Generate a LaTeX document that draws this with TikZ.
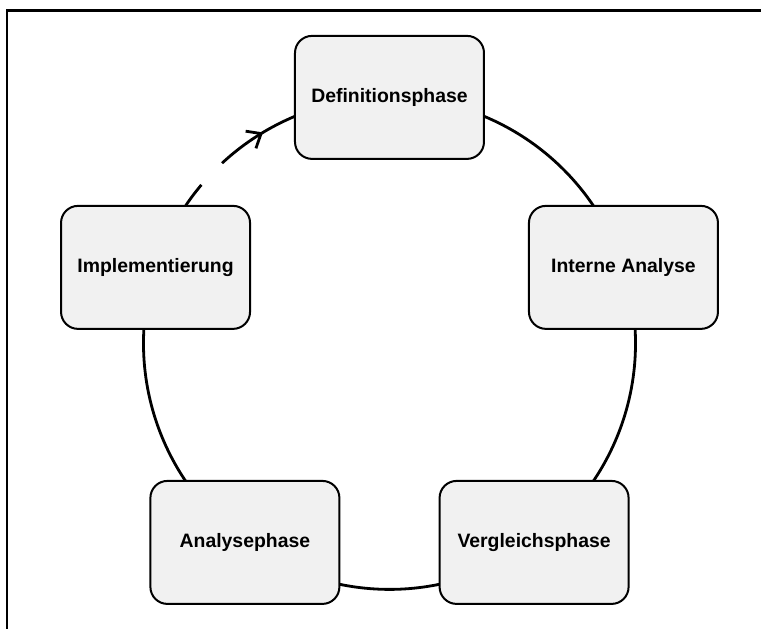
\documentclass[tikz,border=0pt]{standalone}
\usepackage{fontspec}
\setmainfont{Liberation Sans}
\usepackage{xcolor}
\definecolor{phasebg}{HTML}{F1F1F1}
\definecolor{phasekw}{HTML}{000000}
\usepackage{tikz}
\usetikzlibrary{arrows.meta,positioning,backgrounds,decorations.markings}

\begin{document}
\begin{tikzpicture}[x=1pt,y=1pt,
  phase/.style={draw=phasekw,line width=2pt,rounded corners=17pt,fill=phasebg,
    minimum width=189pt,minimum height=123pt,inner sep=0pt,
    font=\bfseries\fontsize{19.4}{23}\selectfont},
  link/.style={draw=phasekw,line width=2.8pt}]
\useasboundingbox (-389.5,-285.6) rectangle (371.5,343.4);
% frame
\draw[line width=2.6pt] (-382.5,-285.6) |- (371.5,332.9);
% phases on the circle
\node[phase] (def) at (90:246pt) {Definitionsphase};
\node[phase] (intern) at (18:246pt) {Interne Analyse};
\node[phase] (vergl) at (-54:246pt) {Vergleichsphase};
\node[phase] (analyse) at (-126:246pt) {Analysephase};
\node[phase] (impl) at (162:246pt) {Implementierung};
\begin{scope}[on background layer]
\draw[link] (def.center) arc[start angle=90,end angle=18,radius=246pt];
\draw[link] (intern.center) arc[start angle=18,end angle=-54,radius=246pt];
\draw[link] (vergl.center) arc[start angle=-54,end angle=-126,radius=246pt];
\draw[link] (analyse.center) arc[start angle=234,end angle=162,radius=246pt];
\draw[link,dash pattern=on 26pt off 30pt on 400pt off 69pt,dash phase=456pt,
  postaction={solid,decorate,decoration={markings,
    mark=at position 0.57 with {\arrow[line width=2.8pt]{Straight Barb[length=12pt,width=20pt]}}}}]
  (impl.center) arc[start angle=162,end angle=90,radius=246pt];
\end{scope}
\end{tikzpicture}
\end{document}
